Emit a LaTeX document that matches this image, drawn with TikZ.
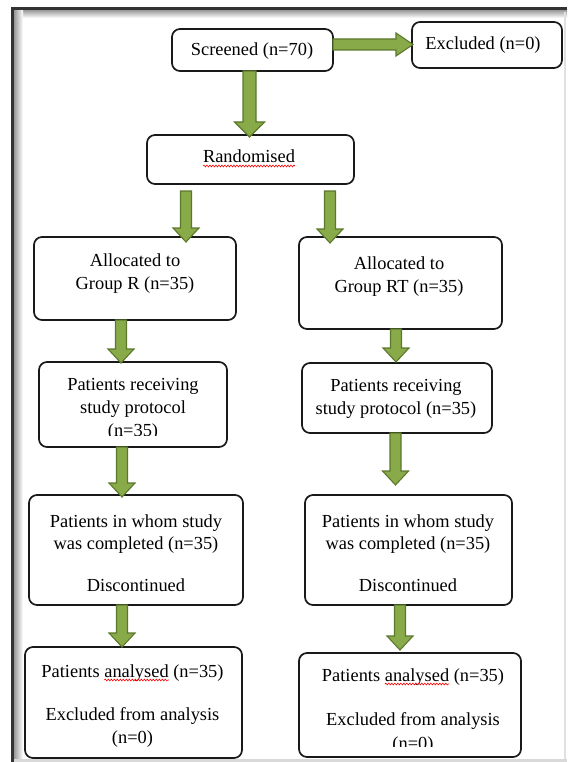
\documentclass[tikz,border=0pt]{standalone}
\usepackage{fontspec}
\setmainfont{Liberation Serif}
\usetikzlibrary{calc,decorations.pathmorphing}
\definecolor{agreen}{RGB}{136,170,72}
\definecolor{adark}{RGB}{92,120,42}
\definecolor{boxline}{RGB}{25,25,25}
\tikzset{
  box/.style={rectangle, draw=boxline, line width=1.7pt, rounded corners=8pt, fill=white, inner sep=0pt, outer sep=0pt},
  txt/.style={anchor=base, inner sep=0pt, outer sep=0pt},
  blk/.style={draw=adark, fill=agreen, line width=1.1pt, line join=miter},
  vblk/.style n args={3}{to path={let \p1=(\tikztostart), \p2=(\tikztotarget) in
     (\x1-#1,\y1) -- (\x1-#1,\y2+#3) -- (\x1-#2,\y2+#3) -- (\x1,\y2) -- (\x1+#2,\y2+#3) -- (\x1+#1,\y2+#3) -- (\x1+#1,\y1) -- cycle}},
  hblk/.style n args={3}{to path={let \p1=(\tikztostart), \p2=(\tikztotarget) in
     (\x1,\y1+#1) -- (\x2-#3,\y1+#1) -- (\x2-#3,\y1+#2) -- (\x2,\y1) -- (\x2-#3,\y1-#2) -- (\x2-#3,\y1-#1) -- (\x1,\y1-#1) -- cycle}},
  small/.style={vblk={5.5pt}{13pt}{14pt}},
  spellwave/.style={draw=red, line width=0.6pt, decorate, decoration={snake, amplitude=0.9pt, segment length=3pt}}
}
\begin{document}
\begin{tikzpicture}[x=1pt,y=-1pt,font=\fontsize{18.4}{23}\selectfont]
\useasboundingbox (0,0) rectangle (567,762);
% frame
\fill[white] (0,0) rectangle (567,762);
\shade[top color=black!40, bottom color=white] (14,10) rectangle (567,18);
\shade[left color=black!40, right color=white] (14,10) rectangle (23,762);
\fill[black!12] (564,12) rectangle (566,762);
\fill[black!15] (14,759) rectangle (567,762);
\fill[black!80] (11,7) rectangle (567,10);
\fill[black!80] (11,7) rectangle (14,762);

% boxes
\node[box, minimum width=161pt, minimum height=42pt] (scr) at (252.5,50) {};
\node[box, minimum width=150pt, minimum height=46pt] (exc) at (487,45) {};
\node[box, minimum width=207pt, minimum height=49pt] (rnd) at (250.5,159.5) {};
\node[box, minimum width=202pt, minimum height=83pt] (allR) at (135,278.5) {};
\node[box, minimum width=203pt, minimum height=92pt] (allRT) at (400.5,283) {};
\node[box, minimum width=188pt, minimum height=85pt] (protR) at (133,404.5) {};
\node[box, minimum width=190pt, minimum height=70pt] (protRT) at (397,398) {};
\node[box, minimum width=214pt, minimum height=110pt] (doneR) at (136,550) {};
\node[box, minimum width=207pt, minimum height=110pt] (doneRT) at (408.5,550) {};
\node[box, minimum width=217pt, minimum height=111pt] (anaR) at (133.5,702.5) {};
\node[box, minimum width=222pt, minimum height=104pt] (anaRT) at (410,705) {};

% arrows
\draw[blk, vblk={6.5pt}{15pt}{15pt}] ([xshift=-3pt]scr.south) to ([yshift=-2pt]rnd.north);
\draw[blk, hblk={5.5pt}{11.5pt}{17pt}] ([yshift=5.5pt]scr.east) to ([xshift=1pt]exc.west);
\draw[blk, small] ([xshift=-64.5pt,yshift=-7pt]rnd.south) to ([yshift=-5pt]allR.north);
\draw[blk, small] ([xshift=79.5pt,yshift=-7pt]rnd.south) to ([yshift=-6pt]allRT.north);
\draw[blk, small] ([xshift=-14pt]allR.south) to ([yshift=-1pt]protR.north);
\draw[blk, small] ([xshift=-4.5pt]allRT.south) to ([yshift=1pt]protRT.north);
\draw[blk, small] ([xshift=-11pt]protR.south) to ([yshift=-2pt]doneR.north);
\draw[blk, small] ([xshift=-1.5pt]protRT.south) to ([yshift=10pt]doneRT.north);
\draw[blk, small] ([xshift=-14pt]doneR.south) to (anaR.north);
\draw[blk, small] ([xshift=-8.5pt]doneRT.south) to ([yshift=3pt]anaRT.north);

% texts
\node[txt] (t1) at (252,56) {Screened (n=70)};
\node[txt] (t2) at (483,50) {Excluded (n=0)};
\node[txt] (t3) at (249,163) {Randomised};
\node[txt] (t4a) at (135,266) {Allocated to};
\node[txt] (t4b) at (135,289) {Group R (n=35)};
\node[txt] (t5a) at (399,269) {Allocated to};
\node[txt] (t5b) at (399,292) {Group RT (n=35)};
\node[txt] (t6a) at (133,390) {Patients receiving};
\node[txt] (t6b) at (133,413) {study protocol};
\begin{scope}
  \clip (0,0) rectangle (567,435);
  \node[txt] (t6c) at (133,436) {(n=35)};
\end{scope}
\node[txt] (t7a) at (396,391) {Patients receiving};
\node[txt] (t7b) at (396,414) {study protocol (n=35)};
\node[txt] (t8a) at (136,527) {Patients in whom study};
\node[txt] (t8b) at (136,549) {was completed (n=35)};
\node[txt] (t8c) at (136,591) {Discontinued};
\node[txt] (t9a) at (408,527) {Patients in whom study};
\node[txt] (t9b) at (408,549) {was completed (n=35)};
\node[txt] (t9c) at (408,591) {Discontinued};
\node[txt] (t10a) at (132.5,677) {Patients analysed (n=35)};
\node[txt] (t10b) at (132.5,720) {Excluded from analysis};
\node[txt] (t10c) at (132.5,743) {(n=0)};
\node[txt] (t11a) at (413,681) {Patients analysed (n=35)};
\node[txt] (t11b) at (413,725) {Excluded from analysis};
\begin{scope}
  \clip (0,0) rectangle (567,746);
  \node[txt] (t11c) at (413,749) {(n=0)};
\end{scope}

% spell-check squiggles
\draw[spellwave] ([yshift=-3pt]t3.base west) -- ([yshift=-3pt]t3.base east);
\draw[spellwave] ([xshift=62.9pt,yshift=-3pt]t10a.base west) -- ([xshift=127.3pt,yshift=-3pt]t10a.base west);
\draw[spellwave] ([xshift=62.9pt,yshift=-3pt]t11a.base west) -- ([xshift=127.3pt,yshift=-3pt]t11a.base west);
\end{tikzpicture}
\end{document}
